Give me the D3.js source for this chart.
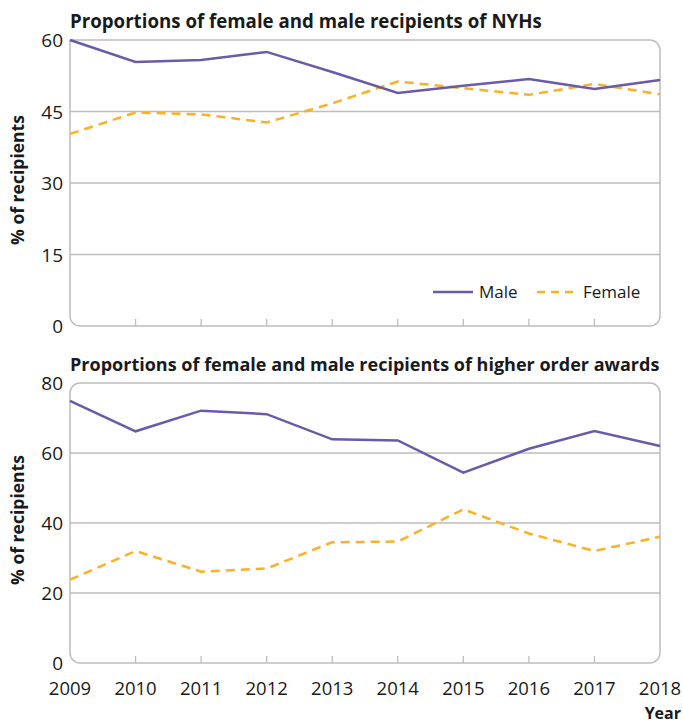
<!DOCTYPE html>
<meta charset="utf-8">
<style>
    body { margin: 0; background: #fff; }
    text { font-family: "Open Sans", sans-serif; fill: #1a1a1a; }
</style>
<svg width="683" height="725"></svg>
<script src="https://d3js.org/d3.v7.min.js"></script>
<script>

    var years = [2009, 2010, 2011, 2012, 2013, 2014, 2015, 2016, 2017, 2018];

    // NYH recipients (%)
    var nyhMale = [60, 55.4, 55.8, 57.5, 53.3, 48.9, 50.4, 51.8, 49.7, 51.6];
    var nyhFemale = [40.3, 44.8, 44.4, 42.7, 46.7, 51.3, 49.9, 48.5, 50.8, 48.6];

    // higher order awards (%)
    var hoMale = [74.9, 66.2, 72.1, 71.1, 63.9, 63.6, 54.4, 61.2, 66.3, 62.0];
    var hoFemale = [23.8, 32.0, 26.1, 27.0, 34.5, 34.7, 43.9, 37.0, 32.0, 36.1];

    var nyhTicks = [0, 15, 30, 45, 60];
    var hoTicks = [0, 20, 40, 60, 80];

    var maleColor = "#6a5aa8",
        femaleColor = "#fbb025",
        gridColor = "#bdbdbd";

    var svg = d3.select("svg");

    var x = d3.scaleLinear()
        .domain([2009, 2018])
        .range([70, 660]);

    // 把文字缩放到目标宽度
    function fit(sel, w) {
        var len = sel.node().getComputedTextLength();
        var fs = parseFloat(sel.attr("font-size"));
        sel.attr("font-size", fs * w / len);
    }

    // 一个面板：标题、网格、边框、两条线
    function panel(opt) {
        var y = d3.scaleLinear().domain([0, opt.max]).range([opt.bottom, opt.top]);
        var g = svg.append("g");

        var title = g.append("text")
            .attr("x", 70).attr("y", opt.top - 12)
            .attr("font-size", 16).attr("font-weight", 700)
            .text(opt.title);
        fit(title, opt.titleWidth);

        // horizontal grid
        g.selectAll(".grid")
            .data(opt.ticks.filter(function (d) { return d > 0 && d < opt.max; }))
            .enter().append("line")
            .attr("x1", x.range()[0]).attr("x2", x.range()[1])
            .attr("y1", y).attr("y2", y)
            .attr("stroke", gridColor).attr("stroke-width", 1.3);

        // frame with rounded corners
        var l = x.range()[0], r = x.range()[1], t = opt.top, b = opt.bottom, rr = 10;
        var tl = opt.roundTopLeft ? rr : 0;
        var p = d3.path();
        p.moveTo(l + tl, t);
        p.lineTo(r - rr, t);
        p.arcTo(r, t, r, t + rr, rr);
        p.lineTo(r, b - rr);
        p.arcTo(r, b, r - rr, b, rr);
        p.lineTo(l + rr, b);
        p.arcTo(l, b, l, b - rr, rr);
        p.lineTo(l, t + tl);
        if (tl) p.arcTo(l, t, l + tl, t, tl);
        g.append("path").attr("d", p.toString())
            .attr("fill", "none").attr("stroke", gridColor).attr("stroke-width", 1.5);

        // x ticks
        g.selectAll(".xt")
            .data(years.slice(1, -1))
            .enter().append("line")
            .attr("x1", x).attr("x2", x)
            .attr("y1", b).attr("y2", b - 7)
            .attr("stroke", gridColor).attr("stroke-width", 1.3);

        // y tick labels
        g.selectAll(".yl")
            .data(opt.ticks)
            .enter().append("text")
            .attr("x", 63).attr("y", function (d) { return y(d) + 7; })
            .attr("text-anchor", "end")
            .attr("font-size", 19)
            .text(function (d) { return d; });

        var ylab = g.append("text")
            .attr("transform", "translate(24," + ((opt.top + opt.bottom) / 2 - 3) + ") rotate(-90)")
            .attr("text-anchor", "middle")
            .attr("font-size", 17).attr("font-weight", 700)
            .text("% of recipients");
        fit(ylab, 130);

        var line = d3.line()
            .x(function (d, i) { return x(years[i]); })
            .y(function (d) { return y(d); });

        g.append("path").datum(opt.female).attr("d", line)
            .attr("fill", "none").attr("stroke", femaleColor).attr("stroke-width", 2.5)
            .attr("stroke-dasharray", "9,6");
        g.append("path").datum(opt.male).attr("d", line)
            .attr("fill", "none").attr("stroke", maleColor).attr("stroke-width", 2.5);

        return g;
    }

    var nyhPanel = panel({
        title: "Proportions of female and male recipients of NYHs",
        titleWidth: 472,
        top: 40, bottom: 326, max: 60, ticks: nyhTicks,
        male: nyhMale, female: nyhFemale, roundTopLeft: false
    });

    panel({
        title: "Proportions of female and male recipients of higher order awards",
        titleWidth: 590,
        top: 383, bottom: 663, max: 80, ticks: hoTicks,
        male: hoMale, female: hoFemale, roundTopLeft: true
    });

    // legend
    var legend = nyhPanel.append("g").attr("transform", "translate(433,292)");
    legend.append("line").attr("x1", 0).attr("x2", 40)
        .attr("stroke", maleColor).attr("stroke-width", 2.5);
    legend.append("text").attr("x", 46).attr("y", 6).attr("font-size", 17).text("Male");
    legend.append("line").attr("x1", 104).attr("x2", 144)
        .attr("stroke", femaleColor).attr("stroke-width", 2.5).attr("stroke-dasharray", "8,6");
    legend.append("text").attr("x", 150).attr("y", 6).attr("font-size", 17).text("Female");

    // x axis labels
    svg.selectAll(".xl")
        .data(years)
        .enter().append("text")
        .attr("x", x).attr("y", 695)
        .attr("text-anchor", "middle")
        .attr("font-size", 18.5)
        .text(function (d) { return d; });

    svg.append("text")
        .attr("x", 681).attr("y", 719)
        .attr("text-anchor", "end")
        .attr("font-size", 16).attr("font-weight", 700)
        .text("Year");

</script>
